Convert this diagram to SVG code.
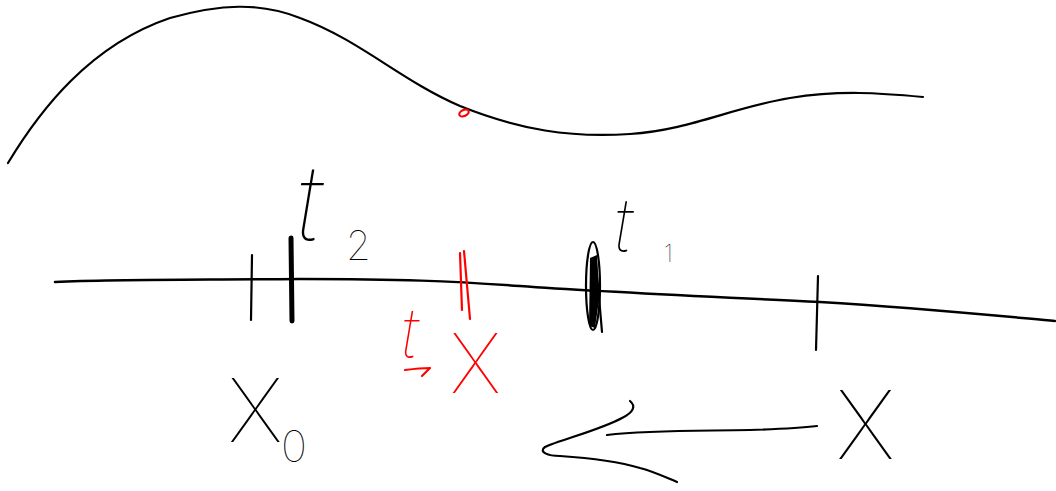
<svg xmlns="http://www.w3.org/2000/svg" width="1056" height="491" viewBox="0 0 1056 491">
<style>
.ink{fill:none;stroke:#000;stroke-width:2.2;stroke-linecap:round;stroke-linejoin:round}
.red{fill:none;stroke:#f00;stroke-width:2.2;stroke-linecap:round;stroke-linejoin:round}
.lb{font-family:Inter,"Liberation Sans",sans-serif;font-weight:100;fill:#000}
.lr{font-family:Inter,"Liberation Sans",sans-serif;font-weight:100;fill:#f00}
.it{font-style:italic}
</style>
<rect width="1056" height="491" fill="#fff"/>
<g id="curve">
<path class="ink" d="M8,163 C40,110 90,45 170,18 C220,4 260,2 300,18 C360,40 400,80 460,106 C520,130 570,138 630,134 C690,130 730,108 790,98 C840,90 880,93 923,97"/>
<ellipse cx="464" cy="113" rx="5" ry="3" transform="rotate(-25 464 113)" class="red"/>
</g>
<g id="axis">
<path class="ink" style="stroke-width:2.5" d="M55,282 C120,279 200,280 300,279 C400,279 450,281 520,286 C600,292 700,296 820,302 C920,308 1000,316 1055,321"/>
<line class="ink" x1="252" y1="255" x2="251" y2="320"/>
<line class="ink" style="stroke-width:5" x1="291" y1="238" x2="292" y2="321"/>
<line class="red" x1="460" y1="253" x2="462" y2="310"/>
<line class="red" x1="464" y1="251" x2="470" y2="319"/>
<ellipse class="ink" cx="593" cy="286" rx="7" ry="44"/>
<path d="M590,258 L597,255 L599,300 L595,328 L589,326 Z" fill="#000"/>
<line class="ink" x1="596" y1="262" x2="602" y2="332"/>
<line class="ink" x1="818" y1="276" x2="816" y2="350"/>
</g>
<g id="label-t2">
<text class="lb it" x="296" y="240" font-size="105">t</text>
<text class="lb" x="346" y="260" font-size="40">2</text>
</g>
<g id="label-t1">
<text class="lb it" x="614" y="252" font-size="75">t</text>
<text class="lb" x="664" y="262" font-size="24">1</text>
</g>
<g id="label-tx">
<text class="lr it" x="401" y="358" font-size="70">t</text>
<path class="red" d="M405,370 C413,369 422,368 430,368 L422,376"/>
<text class="lr" x="450" y="393" font-size="82">X</text>
</g>
<g id="label-x0">
<text class="lb" x="228" y="442" font-size="88">X</text>
<text class="lb" x="281" y="462" font-size="44">0</text>
</g>
<g id="label-x">
<text class="lb" x="836" y="459" font-size="95">X</text>
</g>
<g id="connectors">
<path class="ink" d="M607,435 C650,430 700,431 750,430 C780,429 800,428 817,426"/>
<path class="ink" d="M630,401 C636,406 634,412 622,418 C600,430 560,440 545,447 C538,452 548,456 560,456 C590,458 620,462 640,468 C655,472 665,477 677,482"/>
</g>
</svg>
